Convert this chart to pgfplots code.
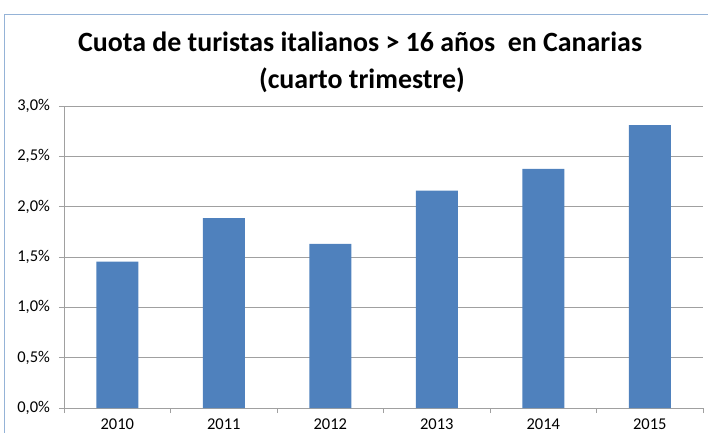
\documentclass[border=0pt]{standalone}
\usepackage{pgfplots}
\pgfplotsset{compat=1.18}
\usepackage{fontspec}
\setmainfont{Carlito}
\definecolor{barblue}{HTML}{4F81BD}
\definecolor{framec}{HTML}{95B3D7}
\definecolor{gridc}{HTML}{A0A0A0}
\begin{document}
\begin{tikzpicture}[x=1pt,y=1pt]
\clip (0,0) rectangle (708,432);
\useasboundingbox (0,0) rectangle (708,432);
\draw[framec, line width=1pt] (4.5,-20) -- (4.5,417) -- (730,417);
\node[anchor=base, font=\fontsize{27.9}{32}\selectfont\bfseries] at (360,380) {Cuota de turistas italianos > 16 años\ \ en Canarias};
\node[anchor=base, font=\fontsize{27.9}{32}\selectfont\bfseries] at (362,344) {(cuarto trimestre)};
\begin{axis}[
  at={(64pt,24pt)}, anchor=south west,
  scale only axis, width=639pt, height=302pt,
  xmin=-0.5, xmax=5.5, ymin=0, ymax=3,
  axis x line*=bottom, axis y line*=left,
  axis line style={gridc, line width=0.8pt, -},
  xtick={0,...,5},
  xticklabels={2010,2011,2012,2013,2014,2015},
  minor xtick={-0.5,0.5,...,5.5},
  major x tick style={draw=none},
  minor tick length=5pt,
  xtick align=outside,
  ytick={0,0.5,...,3},
  yticklabels={{0,0\%},{0,5\%},{1,0\%},{1,5\%},{2,0\%},{2,5\%},{3,0\%}},
  ytick align=outside, major tick length=5pt,
  tick style={gridc, line width=0.8pt},
  ymajorgrids, major grid style={gridc, line width=0.8pt},
  tick label style={font=\fontsize{16.5}{19}\selectfont, text=black},
  xticklabel style={yshift=-2pt},
  yticklabel style={xshift=-5.5pt},
  ybar, bar width=42pt,
  clip=false,
]
\addplot[fill=barblue, draw=none] coordinates {(0,1.455) (1,1.885) (2,1.63) (3,2.16) (4,2.375) (5,2.81)};
\end{axis}
\end{tikzpicture}
\end{document}
